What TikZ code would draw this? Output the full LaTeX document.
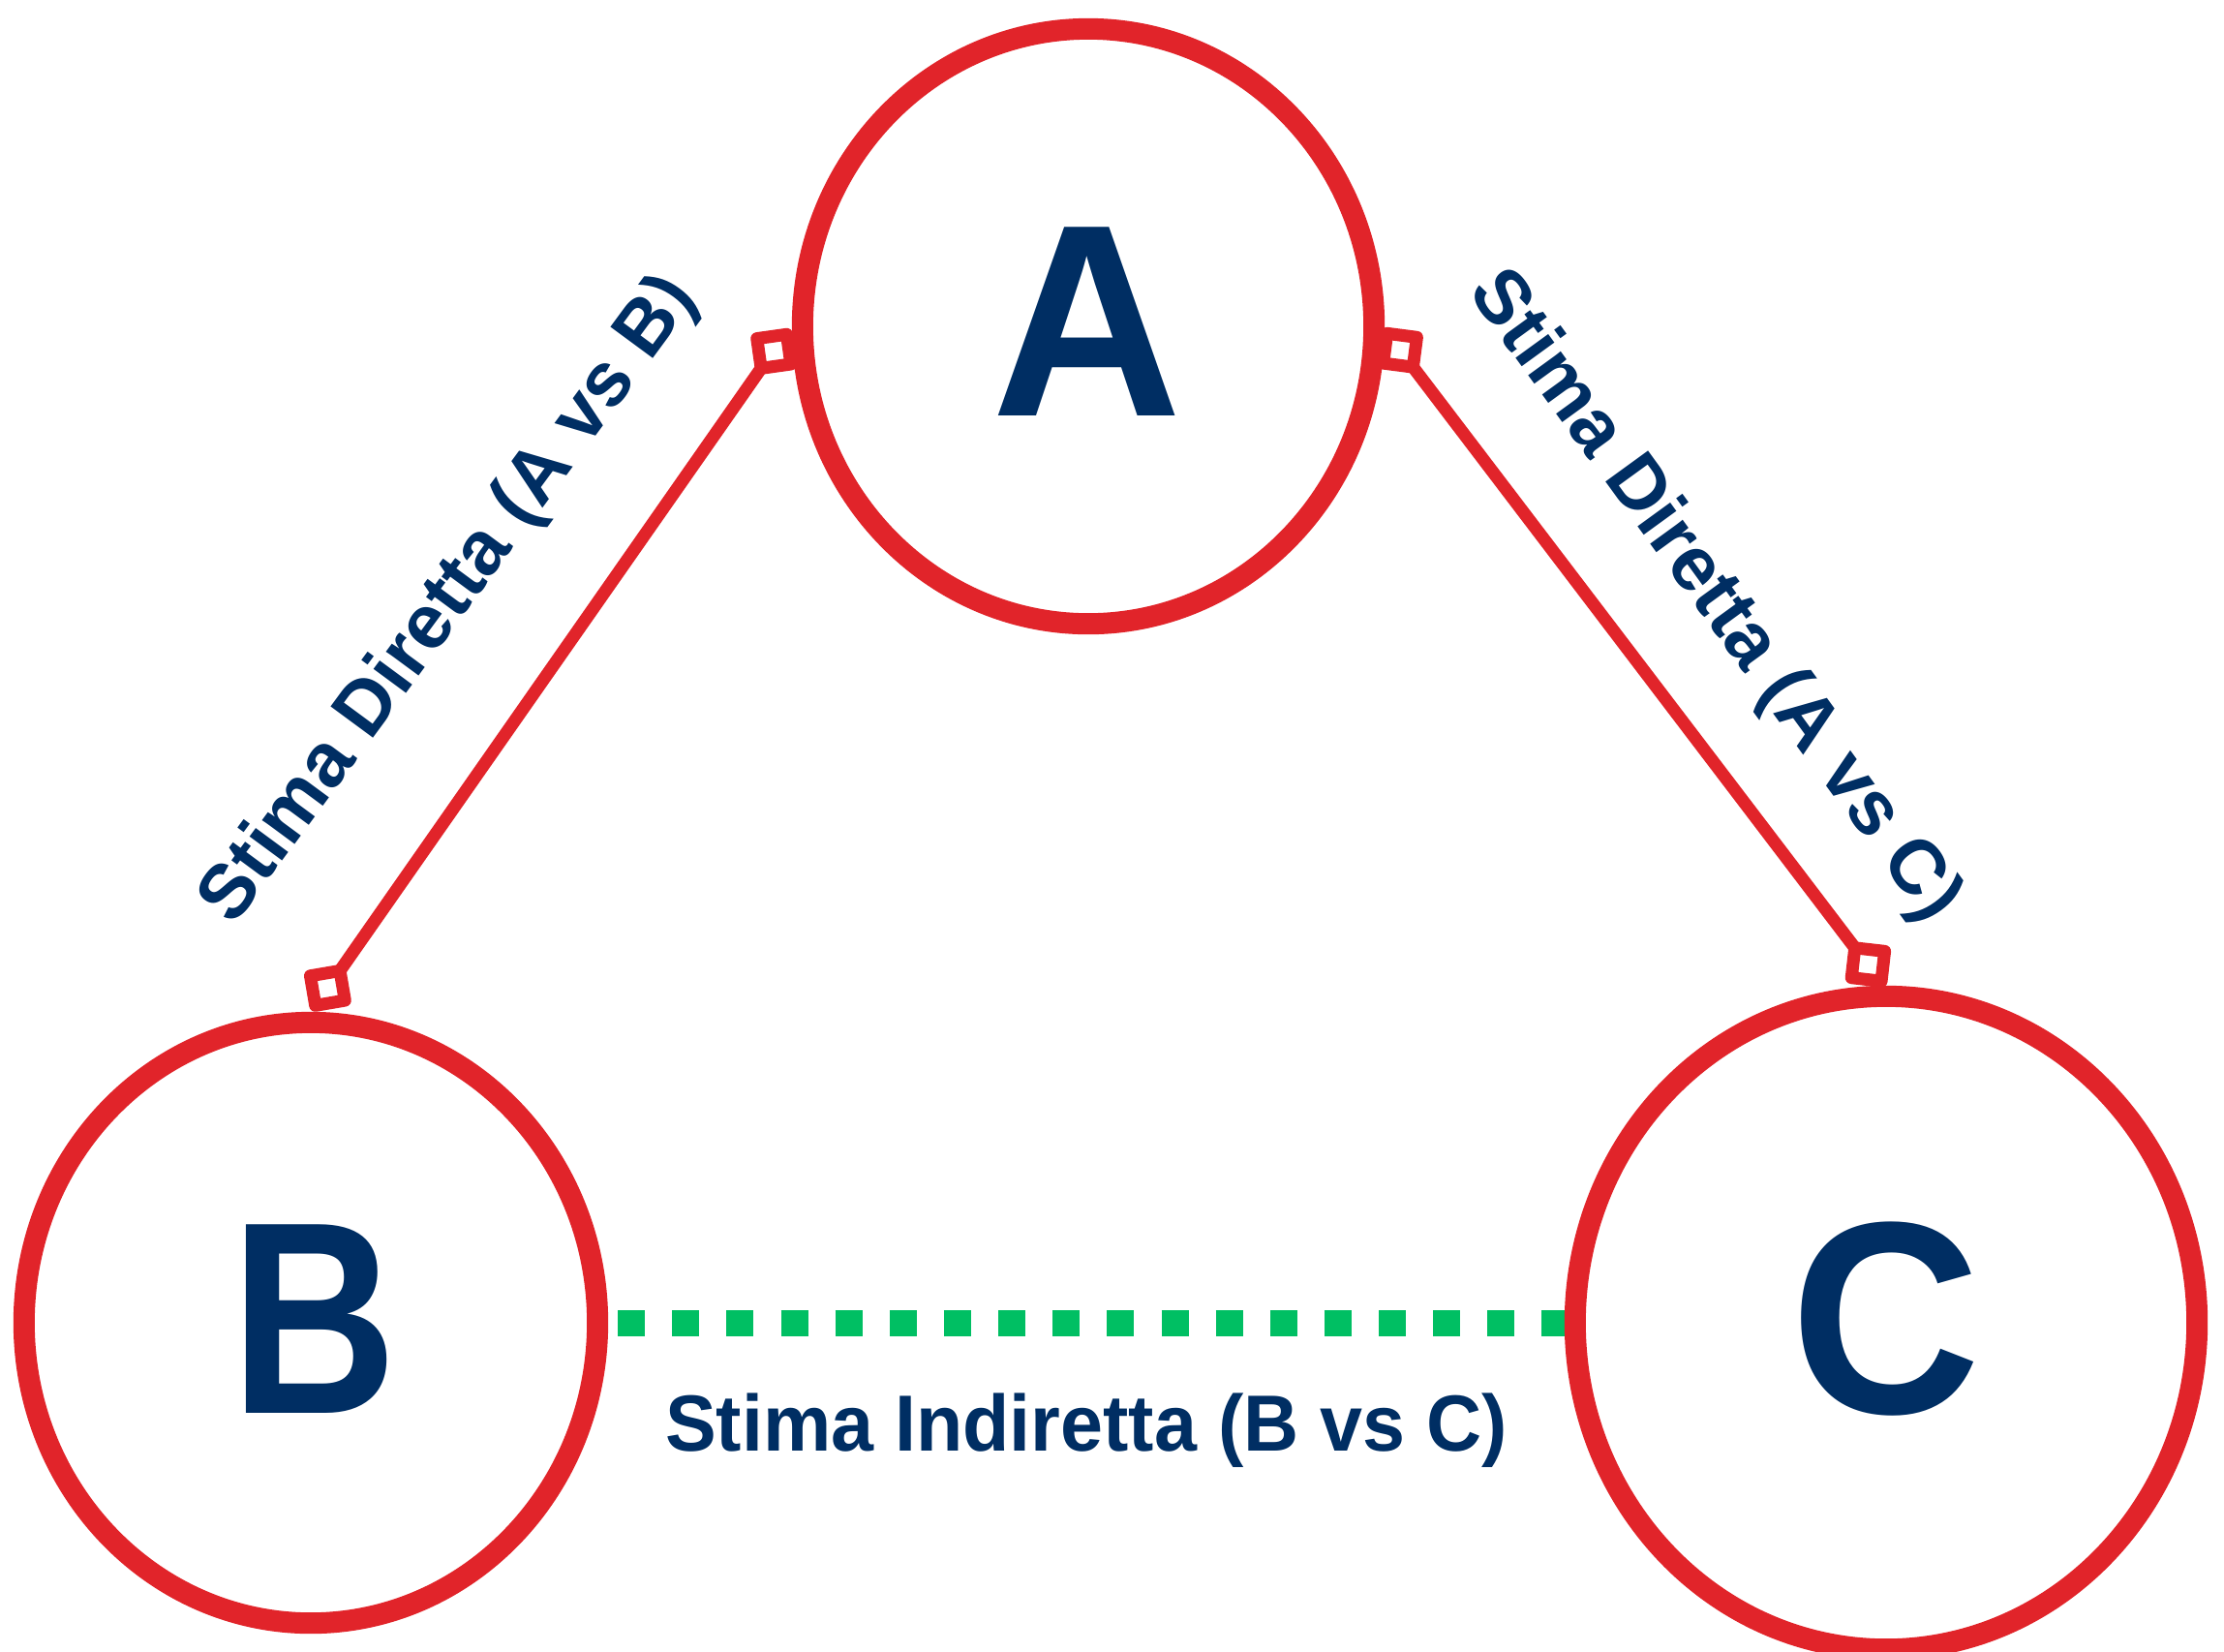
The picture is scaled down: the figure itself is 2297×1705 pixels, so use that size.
\documentclass[tikz,border=0pt]{standalone}
\usepackage{fontspec}
\setmainfont{Liberation Sans}
\usetikzlibrary{shapes.geometric,backgrounds}
\definecolor{ringred}{RGB}{225,36,42}
\definecolor{navy}{RGB}{0,46,99}
\definecolor{dotgreen}{RGB}{0,191,99}
\begin{document}
\begin{tikzpicture}[x=0.01cm,y=-0.01cm,
  ring/.style={ellipse, draw=ringred, line width=0.22cm, inner sep=0pt, outer sep=0pt},
  letter/.style={text=navy, inner sep=0pt, yscale=1.04,
    font=\fontsize{77.4}{80}\selectfont\bfseries},
  marker/.style={rectangle, draw=ringred, fill=white, line width=0.13cm, line join=round,
    minimum size=0.31cm, inner sep=0pt, outer sep=0pt},
  link/.style={draw=ringred, line width=0.13cm},
  indirect/.style={draw=dotgreen, line width=0.27cm, dash pattern=on 0.28cm off 0.281cm},
  lbl/.style={text=navy, font=\fontsize{22.48}{24}\selectfont\bfseries, inner sep=0pt}]
\useasboundingbox (0,0) rectangle (2297,1705);

\node[ring, minimum width=5.90cm, minimum height=6.14cm] (A) at (1124,337) {};
\node[ring, minimum width=5.92cm, minimum height=6.20cm] (B) at (321,1366) {};
\node[ring, minimum width=6.42cm, minimum height=6.74cm] (C) at (1948,1366) {};

\node[letter] (tA) at (1123,332) {A};
\node[letter, xscale=0.875] (tB) at (324,1362) {B};
\node[letter] (tC) at (1948,1362) {C};

\node[marker, rotate=8] (mAB) at (799.3,362.8) {};
\node[marker, rotate=9.7] (mBA) at (338.4,1020.4) {};
\node[marker, rotate=-7.4] (mAC) at (1446,361.7) {};
\node[marker, rotate=-6.5] (mCA) at (1929.4,996) {};

\draw[link] (mAB.south west) -- (mBA.north east);
\draw[link] (mAC.south east) -- (mCA.north west);

\node[lbl, rotate=53.6] (lAB) at (465,620) {Stima Diretta (A vs B)};
\node[lbl, rotate=-54] (lAC) at (1770,616.5) {Stima Diretta (A vs C)};
\node[lbl, anchor=base, yscale=1.04] (lBC) at (1122,1498) {Stima Indiretta (B vs C)};

\begin{pgfonlayer}{background}
\fill[white] (0,0) rectangle (2297,1705);
\draw[indirect] ([xshift=0.21cm]B.east) -- (C.west);
\end{pgfonlayer}
\end{tikzpicture}
\end{document}
